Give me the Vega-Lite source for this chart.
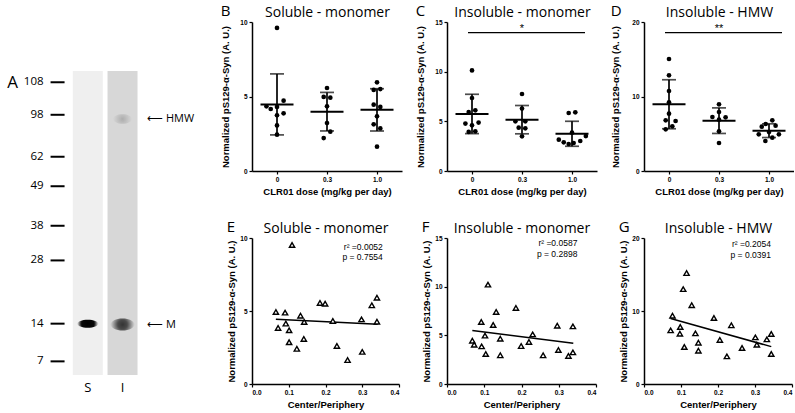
{
  "$schema": "https://vega.github.io/schema/vega-lite/v6.json",
  "background": "white",
  "padding": {"left": 0, "top": 4, "right": 0, "bottom": 0},
  "spacing": 13,
  "datasets": {
    "ladder": [
      {"kda": "108", "mig": 3.7}, {"kda": "98", "mig": 14.4}, {"kda": "62", "mig": 28.2}, {"kda": "49", "mig": 37.9},
      {"kda": "38", "mig": 50.9}, {"kda": "28", "mig": 62.3}, {"kda": "14", "mig": 83.1}, {"kda": "7", "mig": 95.5}
    ],
    "lanes": [{"lane": 1, "name": "S"}, {"lane": 2, "name": "I"}],
    "bands": [
      {"lane": 1, "sample": "S", "species": "M", "mig": 83.1},
      {"lane": 2, "sample": "I", "species": "M", "mig": 83.4},
      {"lane": 2, "sample": "I", "species": "HMW", "mig": 15.8}
    ],
    "stats": [
      {"panel": "E", "r2": "0.0052", "p": "0.7554"},
      {"panel": "F", "r2": "0.0587", "p": "0.2898"},
      {"panel": "G", "r2": "0.2054", "p": "0.0391"}
    ],
    "B": [
      {"dose": "0", "v": 9.6, "j": 0}, {"dose": "0", "v": 4.34, "j": -3.2}, {"dose": "0", "v": 4.16, "j": -1.9},
      {"dose": "0", "v": 4.3, "j": 0}, {"dose": "0", "v": 4.72, "j": 2}, {"dose": "0", "v": 3.74, "j": 0},
      {"dose": "0", "v": 3.87, "j": 2}, {"dose": "0", "v": 3.06, "j": 0}, {"dose": "0", "v": 2.44, "j": 0},
      {"dose": "0.3", "v": 5.57, "j": 0}, {"dose": "0.3", "v": 4.97, "j": -1}, {"dose": "0.3", "v": 4.92, "j": 1},
      {"dose": "0.3", "v": 4.34, "j": 0}, {"dose": "0.3", "v": 3.22, "j": 0}, {"dose": "0.3", "v": 2.64, "j": 1},
      {"dose": "0.3", "v": 2.21, "j": -1},
      {"dose": "1.0", "v": 5.95, "j": 0}, {"dose": "1.0", "v": 5.44, "j": -1}, {"dose": "1.0", "v": 5.5, "j": 1},
      {"dose": "1.0", "v": 4.45, "j": -1}, {"dose": "1.0", "v": 4.3, "j": 1}, {"dose": "1.0", "v": 3.67, "j": 0},
      {"dose": "1.0", "v": 3.13, "j": -1}, {"dose": "1.0", "v": 2.86, "j": 1}, {"dose": "1.0", "v": 1.63, "j": 0}
    ],
    "C": [
      {"dose": "0", "v": 10.13, "j": 0}, {"dose": "0", "v": 7.35, "j": 0}, {"dose": "0", "v": 5.94, "j": -1},
      {"dose": "0", "v": 6.11, "j": 1}, {"dose": "0", "v": 4.77, "j": -2}, {"dose": "0", "v": 4.6, "j": 0},
      {"dose": "0", "v": 4.87, "j": 2}, {"dose": "0", "v": 3.93, "j": -1}, {"dose": "0", "v": 3.99, "j": 1},
      {"dose": "0.3", "v": 7.75, "j": 0}, {"dose": "0.3", "v": 6.28, "j": 0}, {"dose": "0.3", "v": 5.0, "j": -2},
      {"dose": "0.3", "v": 5.0, "j": 1}, {"dose": "0.3", "v": 4.36, "j": -1}, {"dose": "0.3", "v": 4.3, "j": 1},
      {"dose": "0.3", "v": 3.49, "j": 0},
      {"dose": "1.0", "v": 5.84, "j": -1}, {"dose": "1.0", "v": 5.91, "j": 1}, {"dose": "1.0", "v": 3.86, "j": 0},
      {"dose": "1.0", "v": 3.15, "j": -4}, {"dose": "1.0", "v": 2.89, "j": -2.5}, {"dose": "1.0", "v": 2.72, "j": -1},
      {"dose": "1.0", "v": 2.82, "j": 0.5}, {"dose": "1.0", "v": 3.02, "j": 2.5}, {"dose": "1.0", "v": 3.52, "j": 4.2}
    ],
    "D": [
      {"dose": "0", "v": 15.03, "j": 0}, {"dose": "0", "v": 12.84, "j": 0}, {"dose": "0", "v": 10.74, "j": 0},
      {"dose": "0", "v": 9.22, "j": 0}, {"dose": "0", "v": 7.7, "j": 0}, {"dose": "0", "v": 6.8, "j": -1},
      {"dose": "0", "v": 6.71, "j": 2}, {"dose": "0", "v": 6.0, "j": 1}, {"dose": "0", "v": 5.59, "j": -1},
      {"dose": "0.3", "v": 8.95, "j": 0}, {"dose": "0.3", "v": 7.92, "j": 0}, {"dose": "0.3", "v": 7.25, "j": -2},
      {"dose": "0.3", "v": 7.2, "j": 2}, {"dose": "0.3", "v": 6.89, "j": 0}, {"dose": "0.3", "v": 5.32, "j": 0},
      {"dose": "0.3", "v": 3.76, "j": 0},
      {"dose": "1.0", "v": 6.8, "j": 1}, {"dose": "1.0", "v": 6.31, "j": -1}, {"dose": "1.0", "v": 6.09, "j": 2},
      {"dose": "1.0", "v": 5.95, "j": -2.2}, {"dose": "1.0", "v": 5.23, "j": 0}, {"dose": "1.0", "v": 4.92, "j": -3.1},
      {"dose": "1.0", "v": 4.92, "j": 3}, {"dose": "1.0", "v": 4.47, "j": 1}, {"dose": "1.0", "v": 4.03, "j": -1.1}
    ],
    "E": [
      {"x": 0.109, "y": 9.52}, {"x": 0.065, "y": 4.93}, {"x": 0.09, "y": 4.89}, {"x": 0.071, "y": 3.84},
      {"x": 0.092, "y": 4.14}, {"x": 0.101, "y": 3.68}, {"x": 0.101, "y": 2.86}, {"x": 0.132, "y": 4.68},
      {"x": 0.142, "y": 4.25}, {"x": 0.141, "y": 3.09}, {"x": 0.122, "y": 2.41}, {"x": 0.185, "y": 5.55},
      {"x": 0.199, "y": 5.5}, {"x": 0.22, "y": 4.32}, {"x": 0.231, "y": 2.61}, {"x": 0.26, "y": 1.64},
      {"x": 0.298, "y": 4.43}, {"x": 0.3, "y": 2.2}, {"x": 0.326, "y": 5.39}, {"x": 0.34, "y": 5.91},
      {"x": 0.34, "y": 4.27}
    ],
    "F": [
      {"x": 0.11, "y": 10.21}, {"x": 0.132, "y": 7.4}, {"x": 0.185, "y": 7.81}, {"x": 0.092, "y": 6.37},
      {"x": 0.124, "y": 6.06}, {"x": 0.068, "y": 4.45}, {"x": 0.073, "y": 4.04}, {"x": 0.102, "y": 4.97},
      {"x": 0.093, "y": 3.87}, {"x": 0.104, "y": 3.08}, {"x": 0.143, "y": 4.66}, {"x": 0.143, "y": 2.95},
      {"x": 0.199, "y": 3.9}, {"x": 0.22, "y": 4.32}, {"x": 0.23, "y": 5.1}, {"x": 0.258, "y": 2.95},
      {"x": 0.296, "y": 5.99}, {"x": 0.299, "y": 3.49}, {"x": 0.326, "y": 2.88}, {"x": 0.338, "y": 5.92},
      {"x": 0.338, "y": 3.25}
    ],
    "G": [
      {"x": 0.115, "y": 15.2}, {"x": 0.106, "y": 13.0}, {"x": 0.129, "y": 10.8}, {"x": 0.077, "y": 9.36},
      {"x": 0.072, "y": 7.35}, {"x": 0.098, "y": 7.81}, {"x": 0.097, "y": 6.89}, {"x": 0.109, "y": 5.07},
      {"x": 0.139, "y": 6.94}, {"x": 0.147, "y": 5.66}, {"x": 0.147, "y": 4.57}, {"x": 0.189, "y": 9.04},
      {"x": 0.205, "y": 6.03}, {"x": 0.236, "y": 8.04}, {"x": 0.224, "y": 3.79}, {"x": 0.265, "y": 4.93},
      {"x": 0.301, "y": 6.39}, {"x": 0.305, "y": 5.39}, {"x": 0.332, "y": 6.12}, {"x": 0.344, "y": 6.85},
      {"x": 0.344, "y": 4.11}
    ]
  },
  "hconcat": [
    {
      "width": 207,
      "height": 395,
      "layer": [
        {
          "data": {"name": "lanes"},
          "mark": {"type": "bar", "size": 30},
          "encoding": {
            "x": {"field": "lane", "type": "quantitative", "scale": {"domain": [-1.3836, 4.2877], "nice": false, "zero": false}, "axis": null},
            "y": {"datum": 0, "type": "quantitative", "scale": {"domain": [-16.12, 113.8], "nice": false, "zero": false, "reverse": true}, "axis": null},
            "y2": {"datum": 100},
            "color": {"field": "name", "type": "nominal", "scale": {"domain": ["S", "I"], "range": ["#efefef", "#d7d7d7"]}, "legend": null}
          }
        },
        {
          "data": {"name": "lanes"},
          "mark": {"type": "text", "fontSize": 13, "font": "Open Sans", "baseline": "middle", "dy": 13, "color": "black"},
          "encoding": {
            "x": {"field": "lane", "type": "quantitative"},
            "y": {"datum": 100},
            "text": {"field": "name"}
          }
        },
        {
          "data": {"name": "ladder"},
          "mark": {"type": "tick", "orient": "horizontal", "size": 14, "thickness": 2, "color": "black", "xOffset": 4.5, "opacity": 1},
          "encoding": {
            "x": {"datum": 0},
            "y": {"field": "mig", "type": "quantitative"}
          }
        },
        {
          "data": {"name": "ladder"},
          "mark": {"type": "text", "align": "right", "baseline": "middle", "dx": -9.5, "fontSize": 11.5, "font": "Open Sans", "color": "black"},
          "encoding": {
            "x": {"datum": 0},
            "y": {"field": "mig", "type": "quantitative"},
            "text": {"field": "kda"}
          }
        },
        {
          "data": {"name": "bands"},
          "transform": [{"filter": "datum.sample == 'S'"}],
          "mark": {"type": "point", "shape": "M-1,0A1,0.38,0,1,0,1,0A1,0.38,0,1,0,-1,0Z", "size": 441, "filled": true, "opacity": 1, "strokeWidth": 0,
            "fill": {"gradient": "radial", "stops": [{"offset": 0, "color": "#000000"}, {"offset": 0.62, "color": "#080808"}, {"offset": 1, "color": "#efefef"}]}},
          "encoding": {"x": {"field": "lane", "type": "quantitative"}, "y": {"field": "mig", "type": "quantitative"}}
        },
        {
          "data": {"name": "bands"},
          "transform": [{"filter": "datum.sample == 'I' && datum.species == 'M'"}],
          "mark": {"type": "point", "shape": "M-1,0A1,0.5,0,1,0,1,0A1,0.5,0,1,0,-1,0Z", "size": 576, "filled": true, "opacity": 1, "strokeWidth": 0,
            "fill": {"gradient": "radial", "stops": [{"offset": 0, "color": "#333333"}, {"offset": 0.4, "color": "#4a4a4a"}, {"offset": 1, "color": "#d7d7d7"}]}},
          "encoding": {"x": {"field": "lane", "type": "quantitative"}, "y": {"field": "mig", "type": "quantitative"}}
        },
        {
          "data": {"name": "bands"},
          "transform": [{"filter": "datum.species == 'HMW'"}],
          "mark": {"type": "point", "shape": "M-1,0A1,0.5,0,1,0,1,0A1,0.5,0,1,0,-1,0Z", "size": 361, "filled": true, "opacity": 1, "strokeWidth": 0,
            "fill": {"gradient": "radial", "stops": [{"offset": 0, "color": "#adadad"}, {"offset": 1, "color": "#d7d7d7"}]}},
          "encoding": {"x": {"field": "lane", "type": "quantitative"}, "y": {"field": "mig", "type": "quantitative"}}
        },
        {
          "data": {"name": "bands"},
          "transform": [{"filter": "datum.sample == 'I'"}, {"calculate": "'⟵ ' + datum.species", "as": "label"}],
          "mark": {"type": "text", "align": "left", "baseline": "middle", "dx": 24.5, "fontSize": 11, "font": "Open Sans", "color": "black"},
          "encoding": {
            "x": {"field": "lane", "type": "quantitative"},
            "y": {"field": "mig", "type": "quantitative"},
            "text": {"field": "label"}
          }
        },
        {
          "data": {"values": [{}]},
          "mark": {"type": "text", "text": "A", "fontSize": 17, "font": "Open Sans", "align": "left", "baseline": "alphabetic", "color": "black"},
          "encoding": {"x": {"datum": -1.32}, "y": {"datum": 5.6}}
        }
      ]
    },
    {
      "spacing": 24,
      "vconcat": [
        {
          "width": 150, "height": 149,
          "title": {"text": "B"},
          "data": {"name": "B"},
          "layer": [
            {
              "mark": {"type": "errorbar", "extent": "stdev", "color": "black", "thickness": 1.7, "ticks": {"size": 14}},
              "encoding": {
                "x": {"field": "dose", "type": "nominal", "scale": {"type": "point", "padding": 0.5}, "axis": null},
                "y": {"field": "v", "type": "quantitative", "scale": {"domain": [0, 10], "nice": false}, "title": "Normalized pS129-α-Syn (A. U.)", "axis": {"values": [0, 5, 10], "titlePadding": 9}}
              }
            },
            {
              "mark": {"type": "tick", "orient": "horizontal", "size": 33, "thickness": 2, "color": "black", "opacity": 1},
              "encoding": {
                "x": {"field": "dose", "type": "nominal", "axis": {"orient": "top", "title": "Soluble - monomer", "labels": false, "ticks": false, "domain": false, "titleFont": "Open Sans", "titleFontWeight": "normal", "titleFontSize": 14, "titlePadding": 3}},
                "y": {"aggregate": "mean", "field": "v", "type": "quantitative", "title": "Normalized pS129-α-Syn (A. U.)"}
              }
            },
            {
              "mark": {"type": "point", "filled": true, "size": 22, "color": "black", "opacity": 1},
              "encoding": {
                "x": {"field": "dose", "type": "nominal", "axis": {"title": "CLR01 dose (mg/kg per day)"}},
                "xOffset": {"field": "j", "type": "quantitative", "scale": {"domain": [-1, 1], "range": [-3.3, 3.3]}},
                "y": {"field": "v", "type": "quantitative", "title": "Normalized pS129-α-Syn (A. U.)"}
              }
            }
          ],
          "resolve": {"axis": {"x": "independent"}}
        },
        {
          "width": 147, "height": 146,
          "title": {"text": "E"},
          "data": {"name": "E"},
          "layer": [
            {
              "transform": [{"regression": "y", "on": "x", "extent": [0.065, 0.342]}],
              "mark": {"type": "line", "color": "black", "strokeWidth": 1.5},
              "encoding": {
                "x": {"field": "x", "type": "quantitative", "scale": {"domain": [0, 0.4], "nice": false}, "axis": {"orient": "top", "title": "Soluble - monomer", "labels": false, "ticks": false, "domain": false, "titleFont": "Open Sans", "titleFontWeight": "normal", "titleFontSize": 14, "titlePadding": 3}},
                "y": {"field": "y", "type": "quantitative", "scale": {"domain": [0, 10], "nice": false}, "title": "Normalized pS129-α-Syn (A. U.)", "axis": {"values": [0, 5, 10], "titlePadding": 3}}
              }
            },
            {
              "mark": {"type": "point", "shape": "triangle-up", "size": 28, "filled": true, "fill": "white", "stroke": "black", "strokeWidth": 1.4, "opacity": 1},
              "encoding": {
                "x": {"field": "x", "type": "quantitative", "axis": {"values": [0, 0.1, 0.2, 0.3, 0.4], "format": ".1f", "title": "Center/Periphery"}},
                "y": {"field": "y", "type": "quantitative", "title": "Normalized pS129-α-Syn (A. U.)"}
              }
            },
            {
              "data": {"name": "stats"},
              "transform": [{"filter": "datum.panel == 'E'"}, {"calculate": "['r² =' + datum.r2, 'p = ' + datum.p]", "as": "lines"}],
              "mark": {"type": "text", "align": "right", "baseline": "alphabetic", "lineHeight": 10.5, "fontSize": 8.5, "color": "black"},
              "encoding": {"x": {"datum": 0.356, "axis": null}, "y": {"datum": 9.2}, "text": {"field": "lines"}}
            }
          ],
          "resolve": {"axis": {"x": "independent"}}
        }
      ]
    },
    {
      "spacing": 24,
      "vconcat": [
        {
          "width": 150, "height": 149,
          "title": {"text": "C"},
          "data": {"name": "C"},
          "layer": [
            {
              "mark": {"type": "errorbar", "extent": "stdev", "color": "black", "thickness": 1.7, "ticks": {"size": 14}},
              "encoding": {
                "x": {"field": "dose", "type": "nominal", "scale": {"type": "point", "padding": 0.5}, "axis": null},
                "y": {"field": "v", "type": "quantitative", "scale": {"domain": [0, 15], "nice": false}, "title": "Normalized pS129-α-Syn (A. U.)", "axis": {"values": [0, 5, 10, 15], "titlePadding": 9}}
              }
            },
            {
              "mark": {"type": "tick", "orient": "horizontal", "size": 33, "thickness": 2, "color": "black", "opacity": 1},
              "encoding": {
                "x": {"field": "dose", "type": "nominal", "axis": {"orient": "top", "title": "Insoluble - monomer", "labels": false, "ticks": false, "domain": false, "titleFont": "Open Sans", "titleFontWeight": "normal", "titleFontSize": 14, "titlePadding": 3}},
                "y": {"aggregate": "mean", "field": "v", "type": "quantitative", "title": "Normalized pS129-α-Syn (A. U.)"}
              }
            },
            {
              "mark": {"type": "point", "filled": true, "size": 22, "color": "black", "opacity": 1},
              "encoding": {
                "x": {"field": "dose", "type": "nominal", "axis": {"title": "CLR01 dose (mg/kg per day)"}},
                "xOffset": {"field": "j", "type": "quantitative", "scale": {"domain": [-1, 1], "range": [-3.3, 3.3]}},
                "y": {"field": "v", "type": "quantitative", "title": "Normalized pS129-α-Syn (A. U.)"}
              }
            },
            {
              "data": {"values": [{}]},
              "mark": {"type": "rule", "color": "black", "strokeWidth": 1.4, "xOffset": -4, "x2Offset": 13},
              "encoding": {"x": {"datum": "0", "axis": null}, "x2": {"datum": "1.0"}, "y": {"datum": 13.93}}
            },
            {
              "data": {"values": [{}]},
              "mark": {"type": "text", "text": "*", "fontSize": 11, "baseline": "alphabetic", "dy": -1, "color": "black"},
              "encoding": {"x": {"datum": "0.3", "axis": null}, "y": {"datum": 13.93}}
            }
          ],
          "resolve": {"axis": {"x": "independent"}}
        },
        {
          "width": 149, "height": 146,
          "title": {"text": "F"},
          "data": {"name": "F"},
          "layer": [
            {
              "transform": [{"regression": "y", "on": "x", "extent": [0.068, 0.339]}],
              "mark": {"type": "line", "color": "black", "strokeWidth": 1.5},
              "encoding": {
                "x": {"field": "x", "type": "quantitative", "scale": {"domain": [0, 0.4], "nice": false}, "axis": {"orient": "top", "title": "Insoluble - monomer", "labels": false, "ticks": false, "domain": false, "titleFont": "Open Sans", "titleFontWeight": "normal", "titleFontSize": 14, "titlePadding": 3}},
                "y": {"field": "y", "type": "quantitative", "scale": {"domain": [0, 15], "nice": false}, "title": "Normalized pS129-α-Syn (A. U.)", "axis": {"values": [0, 5, 10, 15], "titlePadding": 3}}
              }
            },
            {
              "mark": {"type": "point", "shape": "triangle-up", "size": 28, "filled": true, "fill": "white", "stroke": "black", "strokeWidth": 1.4, "opacity": 1},
              "encoding": {
                "x": {"field": "x", "type": "quantitative", "axis": {"values": [0, 0.1, 0.2, 0.3, 0.4], "format": ".1f", "title": "Center/Periphery"}},
                "y": {"field": "y", "type": "quantitative", "title": "Normalized pS129-α-Syn (A. U.)"}
              }
            },
            {
              "data": {"name": "stats"},
              "transform": [{"filter": "datum.panel == 'F'"}, {"calculate": "['r² =' + datum.r2, 'p = ' + datum.p]", "as": "lines"}],
              "mark": {"type": "text", "align": "right", "baseline": "alphabetic", "lineHeight": 10.5, "fontSize": 8.5, "color": "black"},
              "encoding": {"x": {"datum": 0.35, "axis": null}, "y": {"datum": 14.15}, "text": {"field": "lines"}}
            }
          ],
          "resolve": {"axis": {"x": "independent"}}
        }
      ]
    },
    {
      "spacing": 24,
      "vconcat": [
        {
          "width": 150, "height": 149,
          "title": {"text": "D"},
          "data": {"name": "D"},
          "layer": [
            {
              "mark": {"type": "errorbar", "extent": "stdev", "color": "black", "thickness": 1.7, "ticks": {"size": 14}},
              "encoding": {
                "x": {"field": "dose", "type": "nominal", "scale": {"type": "point", "padding": 0.5}, "axis": null},
                "y": {"field": "v", "type": "quantitative", "scale": {"domain": [0, 20], "nice": false}, "title": "Normalized pS129-α-Syn (A. U.)", "axis": {"values": [0, 5, 10, 15, 20], "titlePadding": 11}}
              }
            },
            {
              "mark": {"type": "tick", "orient": "horizontal", "size": 33, "thickness": 2, "color": "black", "opacity": 1},
              "encoding": {
                "x": {"field": "dose", "type": "nominal", "axis": {"orient": "top", "title": "Insoluble - HMW", "labels": false, "ticks": false, "domain": false, "titleFont": "Open Sans", "titleFontWeight": "normal", "titleFontSize": 14, "titlePadding": 3}},
                "y": {"aggregate": "mean", "field": "v", "type": "quantitative", "title": "Normalized pS129-α-Syn (A. U.)"}
              }
            },
            {
              "mark": {"type": "point", "filled": true, "size": 22, "color": "black", "opacity": 1},
              "encoding": {
                "x": {"field": "dose", "type": "nominal", "axis": {"title": "CLR01 dose (mg/kg per day)"}},
                "xOffset": {"field": "j", "type": "quantitative", "scale": {"domain": [-1, 1], "range": [-3.3, 3.3]}},
                "y": {"field": "v", "type": "quantitative", "title": "Normalized pS129-α-Syn (A. U.)"}
              }
            },
            {
              "data": {"values": [{}]},
              "mark": {"type": "rule", "color": "black", "strokeWidth": 1.4, "xOffset": -4, "x2Offset": 13},
              "encoding": {"x": {"datum": "0", "axis": null}, "x2": {"datum": "1.0"}, "y": {"datum": 18.57}}
            },
            {
              "data": {"values": [{}]},
              "mark": {"type": "text", "text": "**", "fontSize": 11, "baseline": "alphabetic", "dy": -1, "color": "black"},
              "encoding": {"x": {"datum": "0.3", "axis": null}, "y": {"datum": 18.57}}
            }
          ],
          "resolve": {"axis": {"x": "independent"}}
        },
        {
          "width": 148, "height": 146,
          "title": {"text": "G"},
          "data": {"name": "G"},
          "layer": [
            {
              "transform": [{"regression": "y", "on": "x", "extent": [0.072, 0.344]}],
              "mark": {"type": "line", "color": "black", "strokeWidth": 1.5},
              "encoding": {
                "x": {"field": "x", "type": "quantitative", "scale": {"domain": [0, 0.4], "nice": false}, "axis": {"orient": "top", "title": "Insoluble - HMW", "labels": false, "ticks": false, "domain": false, "titleFont": "Open Sans", "titleFontWeight": "normal", "titleFontSize": 14, "titlePadding": 3}},
                "y": {"field": "y", "type": "quantitative", "scale": {"domain": [0, 20], "nice": false}, "title": "Normalized pS129-α-Syn (A. U.)", "axis": {"values": [0, 5, 10, 15, 20], "titlePadding": 3}}
              }
            },
            {
              "mark": {"type": "point", "shape": "triangle-up", "size": 28, "filled": true, "fill": "white", "stroke": "black", "strokeWidth": 1.4, "opacity": 1},
              "encoding": {
                "x": {"field": "x", "type": "quantitative", "axis": {"values": [0, 0.1, 0.2, 0.3, 0.4], "format": ".1f", "title": "Center/Periphery"}},
                "y": {"field": "y", "type": "quantitative", "title": "Normalized pS129-α-Syn (A. U.)"}
              }
            },
            {
              "data": {"name": "stats"},
              "transform": [{"filter": "datum.panel == 'G'"}, {"calculate": "['r² =' + datum.r2, 'p = ' + datum.p]", "as": "lines"}],
              "mark": {"type": "text", "align": "right", "baseline": "alphabetic", "lineHeight": 10.5, "fontSize": 8.5, "color": "black"},
              "encoding": {"x": {"datum": 0.343, "axis": null}, "y": {"datum": 18.7}, "text": {"field": "lines"}}
            }
          ],
          "resolve": {"axis": {"x": "independent"}}
        }
      ]
    }
  ],
  "config": {
    "view": {"stroke": null},
    "font": "Liberation Sans",
    "axis": {
      "grid": false, "domainColor": "black", "domainWidth": 1.5, "tickColor": "black", "tickWidth": 1.2, "tickSize": 3,
      "labelFont": "Liberation Sans", "labelFontSize": 6.5, "labelFontWeight": "bold", "labelColor": "black", "labelPadding": 2,
      "titleFont": "Liberation Sans", "titleFontSize": 9.5, "titleFontWeight": "bold", "titleColor": "black"
    },
    "axisX": {"labelAngle": 0, "titlePadding": 4},
    "title": {"font": "Open Sans", "fontSize": 15, "fontWeight": "normal", "anchor": "start", "frame": "bounds", "offset": -14, "color": "black"},
    "text": {"font": "Liberation Sans", "color": "black"}
  }
}
